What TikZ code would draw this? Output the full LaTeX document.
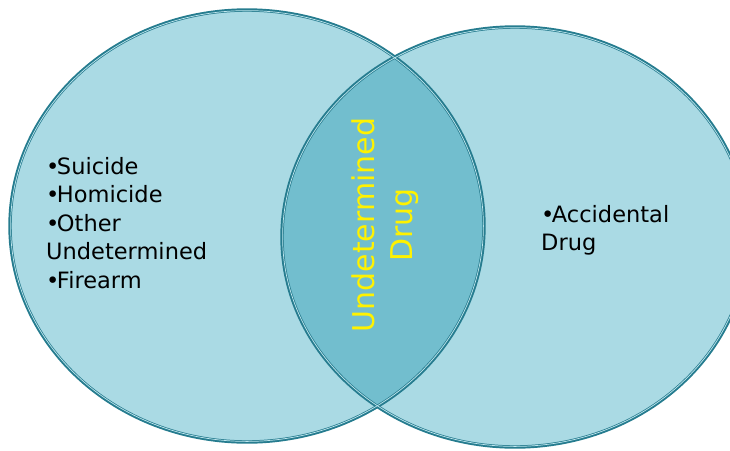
\documentclass[tikz,border=0pt]{standalone}
\usepackage{fontspec}
\setmainfont{DejaVu Sans}
\usetikzlibrary{positioning}
\definecolor{venn}{RGB}{170,218,228}
\definecolor{vennmid}{RGB}{114,190,206}
\definecolor{vennline}{RGB}{38,124,143}
\definecolor{vennhi}{RGB}{190,230,238}
\newcommand{\vbul}{•\kern-2.5pt}

\begin{document}
\begin{tikzpicture}[x=1pt,y=-1pt,
  ring/.style={draw=vennline,line width=3.4pt},
  ringhi/.style={draw=vennhi,line width=0.7pt},
  listtext/.style={anchor=north west,inner sep=0pt,align=left,font=\fontsize{22.5}{28.5}\selectfont},
  midtext/.style={rotate=90,inner sep=0pt,align=center,text=yellow,font=\fontsize{30}{38}\selectfont}]
  \useasboundingbox (0,0) rectangle (730,450);
  \coordinate (L) at (247,226);
  \coordinate (R) at (515,237);

  % the two sets
  \fill[venn] (L) ellipse [x radius=237pt,y radius=216pt];
  \fill[venn] (R) ellipse [x radius=233pt,y radius=210pt];
  \begin{scope}
    \clip (L) ellipse [x radius=237pt,y radius=216pt];
    \fill[vennmid] (R) ellipse [x radius=233pt,y radius=210pt];
  \end{scope}
  \draw[ring] (L) ellipse [x radius=237pt,y radius=216pt];
  \draw[ring] (R) ellipse [x radius=233pt,y radius=210pt];
  \draw[ringhi] (L) ellipse [x radius=236.4pt,y radius=215.4pt];
  \draw[ringhi] (R) ellipse [x radius=232.4pt,y radius=209.4pt];

  % labels
  \node[listtext] (left) at (46,157) {\vbul Suicide\\\vbul Homicide\\\vbul Other\\Undetermined\\\vbul Firearm};
  \node[listtext] (right) at (541,205) {\vbul Accidental\\Drug};
  \node[midtext] (both) at (385,225) {Undetermined\\Drug};
\end{tikzpicture}
\end{document}
